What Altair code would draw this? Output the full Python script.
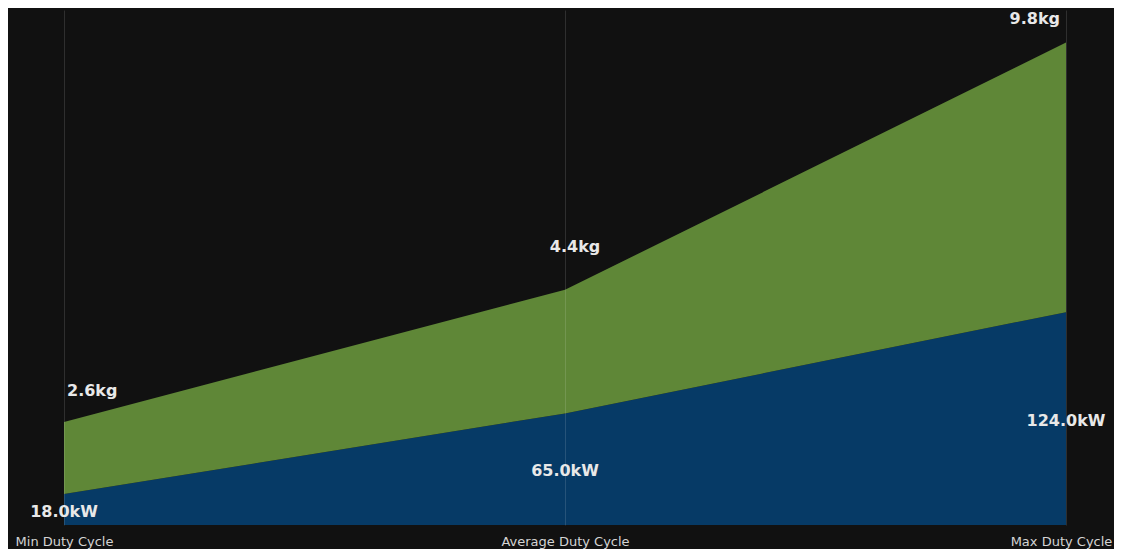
import altair as alt
import pandas as pd

categories = ["Min Duty Cycle", "Average Duty Cycle", "Max Duty Cycle"]
power_kw = [18.0, 65.0, 124.0]
co2_kg = [2.6, 4.4, 9.8]
# thickness of the kg band as drawn in the same units as kW
kg_band = [42.0, 72.0, 157.0]

df = pd.DataFrame({
    "cat": categories,
    "kw": power_kw,
    "kg": co2_kg,
    "band": kg_band,
})

FONT = "DejaVu Sans"

x_enc = alt.X(
    "cat:O",
    sort=categories,
    scale=alt.Scale(type="point", padding=0),
    axis=alt.Axis(
        title=None, labelAngle=0, grid=True, gridColor="#ffffff", gridOpacity=0.13,
        gridWidth=1, domain=False, ticks=False, tickSize=0, labelColor="#d4d4d4",
        labelFont=FONT, labelFontSize=13, labelPadding=20, labelBaseline="alphabetic",
        labelOverlap=False, labelBound=False, zindex=1,
        labelOffset=alt.ExprRef("datum.index == 1 ? -5 : 0"),
    ),
)
y_scale = alt.Scale(domain=[0, 300], nice=False, zero=True)

base = alt.Chart(df).transform_calculate(
    top="datum.kw + datum.band",
    mid="datum.kw / 2",
    kw_label="format(datum.kw, '.1f') + 'kW'",
    kg_label="format(datum.kg, '.1f') + 'kg'",
)

blue = base.mark_area(color="#063a66", opacity=1).encode(
    x=x_enc,
    y=alt.Y("kw:Q", scale=y_scale, axis=None),
    y2=alt.datum(0),
)

green = base.mark_area(color="#5f8737", opacity=1).encode(
    x=x_enc,
    y=alt.Y("top:Q", scale=y_scale, axis=None),
    y2="kw:Q",
)

kw_text = base.mark_text(
    font=FONT, fontSize=16, fontWeight="bold", color="#e8e8e8", align="center",
    baseline="middle", dy=2,
).encode(
    x=alt.X("cat:O", sort=categories),
    y=alt.Y("mid:Q", scale=y_scale),
    text="kw_label:N",
)

kg_specs = [
    (categories[0], "left", 3, -31),
    (categories[1], "center", 10, -43),
    (categories[2], "right", -6, -24),
]
kg_layers = []
for cat, align, dx, dy in kg_specs:
    kg_layers.append(
        base.transform_filter(alt.datum.cat == cat).mark_text(
            font=FONT, fontSize=16, fontWeight="bold", color="#e8e8e8",
            align=align, baseline="middle", dx=dx, dy=dy,
        ).encode(
            x=alt.X("cat:O", sort=categories),
            y=alt.Y("top:Q", scale=y_scale),
            text="kg_label:N",
        )
    )

chart = alt.layer(blue, green, kw_text, *kg_layers).properties(
    width=1002,
    height=515,
    autosize=alt.AutoSizeParams(type="none"),
    padding={"left": 56, "top": 2, "right": 48, "bottom": 24},
    background="#111111",
).configure_view(stroke=None)

chart.save("out.html", embed_options={"renderer": "svg", "actions": False})
